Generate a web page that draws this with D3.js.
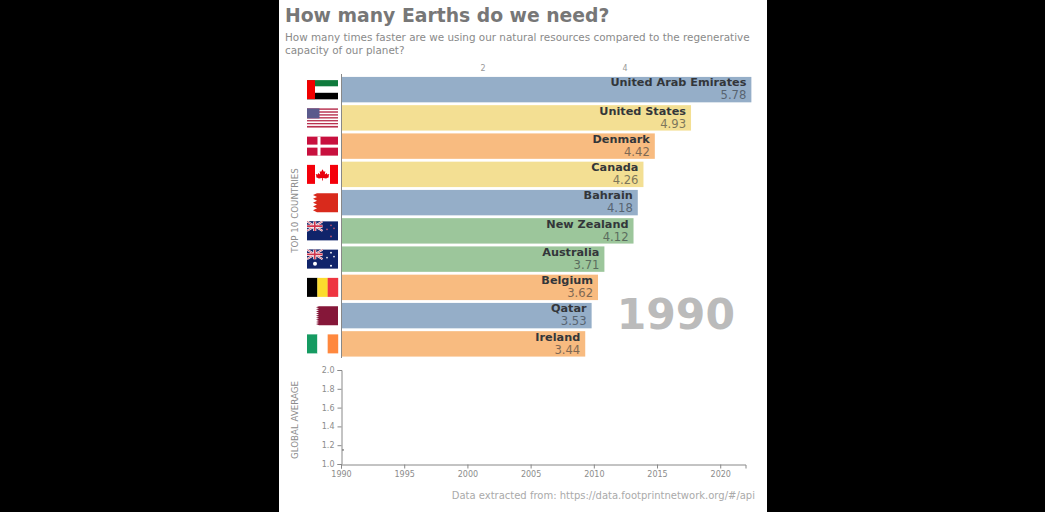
<!DOCTYPE html>
<html>
<head>
<meta charset="utf-8">
<script src="https://cdn.jsdelivr.net/npm/d3@7"></script>
<style>
  html, body { margin: 0; padding: 0; background: #000; overflow: hidden; }
  svg { display: block; font-family: "DejaVu Sans", sans-serif; }
</style>
</head>
<body>
<svg id="chart" width="1045" height="512"></svg>
<script>
/* top 10 countries, 1990 */
const countries = ["United Arab Emirates", "United States", "Denmark", "Canada", "Bahrain",
    "New Zealand", "Australia", "Belgium", "Qatar", "Ireland"];
const values = [5.78, 4.93, 4.42, 4.26, 4.18, 4.12, 3.71, 3.62, 3.53, 3.44];
const regions = ["asia", "america", "europe", "america", "asia",
    "oceania", "oceania", "europe", "asia", "europe"];
const flagCodes = ["ae", "us", "dk", "ca", "bh", "nz", "au", "be", "qa", "ie"];
const topTicks = [2, 4];

/* global average line, only one year so far */
const avgYears = [1990];
const avgValues = [1.15];
const avgTicks = [1.0, 1.2, 1.4, 1.6, 1.8, 2.0];
const yearTicks = [1990, 1995, 2000, 2005, 2010, 2015, 2020];

const regionColor = { asia: "#95aec8", america: "#f3df93", europe: "#f8bb80", oceania: "#9cc69b" };

const svg = d3.select("#chart");

// white page on black background
svg.append("rect").attr("x", 279).attr("y", 0).attr("width", 488).attr("height", 512).attr("fill", "#fff");

svg.append("text").attr("x", 285).attr("y", 22)
    .attr("font-size", 18.8).attr("font-weight", 700).attr("fill", "#777")
    .text("How many Earths do we need?");
svg.append("text").attr("x", 285).attr("y", 41)
    .attr("font-size", 10.4).attr("fill", "#8a8a8a")
    .text("How many times faster are we using our natural resources compared to the regenerative");
svg.append("text").attr("x", 285).attr("y", 54)
    .attr("font-size", 10.4).attr("fill", "#8a8a8a")
    .text("capacity of our planet?");

/* Bars */
const x = d3.scaleLinear().domain([0, 4]).range([341, 625]);
const y = d3.scaleBand().domain(countries).range([75.5, 358]).paddingInner(0.1).paddingOuter(0.05);

const rows = countries.map((name, i) => ({ name, value: values[i], region: regions[i], flag: flagCodes[i] }));

const row = svg.selectAll(".row").data(rows).enter().append("g")
    .attr("class", "row")
    .attr("transform", d => `translate(0, ${y(d.name)})`);

row.append("rect")
    .attr("x", x(0))
    .attr("width", d => x(d.value) - x(0))
    .attr("height", y.bandwidth())
    .attr("fill", d => regionColor[d.region]);

row.append("text")
    .attr("x", d => x(d.value) - 5)
    .attr("y", 9.5)
    .attr("text-anchor", "end")
    .attr("font-size", 11.25).attr("font-weight", 700).attr("fill", "#33363a")
    .text(d => d.name);

row.append("text")
    .attr("x", d => x(d.value) - 5)
    .attr("y", 22.5)
    .attr("text-anchor", "end")
    .attr("font-size", 11.6).attr("fill", "#2f3236").attr("opacity", 0.6)
    .text(d => d3.format(".2f")(d.value));

/* Flags: 31 x 19 box next to the axis */
const FLAG_W = 31, FLAG_H = 19;

function stripes(g, dir, colors) {
    colors.forEach((c, i) => {
        const r = g.append("rect").attr("fill", c);
        if (dir === "v") r.attr("x", i * FLAG_W / colors.length).attr("width", FLAG_W / colors.length + 0.2).attr("height", FLAG_H);
        else r.attr("y", i * FLAG_H / colors.length).attr("width", FLAG_W).attr("height", FLAG_H / colors.length + 0.2);
    });
}

function unionJack(g) {
    const w = FLAG_W / 2, h = FLAG_H / 2;
    g.append("rect").attr("width", w).attr("height", h).attr("fill", "#1f2a6b");
    g.append("path").attr("d", `M0,0L${w},${h}M${w},0L0,${h}`).attr("stroke", "#fff").attr("stroke-width", 2);
    g.append("path").attr("d", `M0,0L${w},${h}M${w},0L0,${h}`).attr("stroke", "#d0324a").attr("stroke-width", 0.7);
    g.append("path").attr("d", `M${w / 2},0V${h}M0,${h / 2}H${w}`).attr("stroke", "#fff").attr("stroke-width", 3);
    g.append("path").attr("d", `M${w / 2},0V${h}M0,${h / 2}H${w}`).attr("stroke", "#d0324a").attr("stroke-width", 1.6);
}

function stars(g, list, fill) {
    list.forEach(s => g.append("circle").attr("cx", s[0]).attr("cy", s[1]).attr("r", s[2]).attr("fill", fill));
}

function serrated(g, edge, dark, teeth, depth) {
    let d = `M${edge},0`;
    const th = FLAG_H / teeth;
    for (let i = 0; i < teeth; i++) d += `L${edge - depth},${th * (i + 0.5)}L${edge},${th * (i + 1)}`;
    d += `L${FLAG_W},${FLAG_H}L${FLAG_W},0Z`;
    g.append("path").attr("d", d).attr("fill", dark);
}

const flagDraw = {
    ae(g) {
        stripes(g, "h", ["#0f7a3c", "#fff", "#000"]);
        g.append("rect").attr("width", 8).attr("height", FLAG_H).attr("fill", "#f00000");
    },
    us(g) {
        stripes(g, "h", d3.range(13).map(i => i % 2 ? "#fff" : "#b8304f"));
        g.append("rect").attr("width", 12.5).attr("height", 10).attr("fill", "#5a5a8c");
    },
    dk(g) {
        g.append("rect").attr("width", FLAG_W).attr("height", FLAG_H).attr("fill", "#c8103e");
        g.append("rect").attr("x", 10.5).attr("width", 3).attr("height", FLAG_H).attr("fill", "#fff");
        g.append("rect").attr("y", 8).attr("width", FLAG_W).attr("height", 3).attr("fill", "#fff");
    },
    ca(g) {
        g.append("rect").attr("width", 8).attr("height", FLAG_H).attr("fill", "#f4000a");
        g.append("rect").attr("x", FLAG_W - 8).attr("width", 8).attr("height", FLAG_H).attr("fill", "#f4000a");
        g.append("path")
            .attr("d", "M15.5,3L17.2,6L19,5.4L18.4,9.5L20.8,7.6L21.4,9.4L24,9L23,12L24,12.6L20,14.6L16,14V17H15V14L11,14.6L7,12.6L8,12L7,9L9.6,9.4L10.2,7.6L12.6,9.5L12,5.4L13.8,6Z")
            .attr("transform", "translate(3.1, 2) scale(0.8)")
            .attr("fill", "#e8000c");
    },
    bh(g) { serrated(g, 10, "#d92a1c", 5, 4); },
    nz(g) {
        g.append("rect").attr("width", FLAG_W).attr("height", FLAG_H).attr("fill", "#10246a");
        unionJack(g);
        stars(g, [[24, 4, 0.8], [20, 8, 0.8], [27, 7, 0.8], [24, 15, 0.9]], "#c9566f");
    },
    au(g) {
        g.append("rect").attr("width", FLAG_W).attr("height", FLAG_H).attr("fill", "#10246a");
        unionJack(g);
        stars(g, [[8, 14, 2], [24, 3, 0.9], [20, 8, 0.8], [27, 7, 0.8], [24, 16, 1]], "#fff");
    },
    be(g) { stripes(g, "v", ["#000", "#fbdc2e", "#ee3540"]); },
    qa(g) { serrated(g, 12, "#851739", 9, 3); },
    ie(g) { stripes(g, "v", ["#169b62", "#fff", "#ff883e"]); }
};

row.append("g")
    .attr("transform", `translate(307, ${(y.bandwidth() - FLAG_H) / 2})`)
    .each(function (d) { flagDraw[d.flag](d3.select(this)); });

/* Vertical baseline of the bars and top axis labels */
svg.append("line").attr("x1", 341.5).attr("x2", 341.5).attr("y1", 74).attr("y2", 358)
    .attr("stroke", "#888").attr("stroke-width", 1);

svg.selectAll(".top-tick").data(topTicks).enter().append("text")
    .attr("class", "top-tick")
    .attr("x", d => x(d)).attr("y", 71)
    .attr("text-anchor", "middle")
    .attr("font-size", 8).attr("fill", "#999")
    .text(d => d);

svg.append("text")
    .attr("transform", "translate(298, 210.5) rotate(-90)")
    .attr("text-anchor", "middle")
    .attr("font-size", 8.7).attr("fill", "#8c8c8c")
    .text("TOP 10 COUNTRIES");

svg.append("text").attr("x", 735).attr("y", 329)
    .attr("text-anchor", "end")
    .attr("font-size", 42.5).attr("font-weight", 700).attr("fill", "#bbb")
    .text("1990");

/* Global average panel */
const xYear = d3.scaleLinear().domain([1990, 2022]).range([341, 745.5]);
const yAvg = d3.scaleLinear().domain([1, 2]).range([464, 370]);

const axisBottom = d3.axisBottom(xYear).tickValues(yearTicks).tickFormat(d3.format("d")).tickSize(4);
const axisLeft = d3.axisLeft(yAvg).tickValues(avgTicks).tickFormat(d3.format(".1f")).tickSize(4);

function styleAxis(sel) {
    sel.selectAll(".domain").attr("stroke", "#888");
    sel.selectAll(".tick line").attr("stroke", "#888");
    sel.selectAll("text").attr("font-size", 8).attr("fill", "#8c8c8c").attr("font-family", "DejaVu Sans");
}

svg.append("g").attr("transform", "translate(0, 464.5)").call(axisBottom).call(styleAxis)
    .selectAll(".tick text").attr("dy", "0.65em");
svg.append("g").attr("transform", "translate(341.5, 0)").call(axisLeft).call(styleAxis);

svg.selectAll(".avg-point").data(avgYears).enter().append("circle")
    .attr("class", "avg-point")
    .attr("cx", d => xYear(d) + 2)
    .attr("cy", (d, i) => yAvg(avgValues[i]))
    .attr("r", 0.9)
    .attr("fill", "#777");

svg.append("text")
    .attr("transform", "translate(298, 420) rotate(-90)")
    .attr("text-anchor", "middle")
    .attr("font-size", 8.7).attr("fill", "#8c8c8c")
    .text("GLOBAL AVERAGE");

svg.append("text").attr("x", 755).attr("y", 499)
    .attr("text-anchor", "end")
    .attr("font-size", 10).attr("fill", "#aaa")
    .text("Data extracted from: https://data.footprintnetwork.org/#/api");
</script>
</body>
</html>
